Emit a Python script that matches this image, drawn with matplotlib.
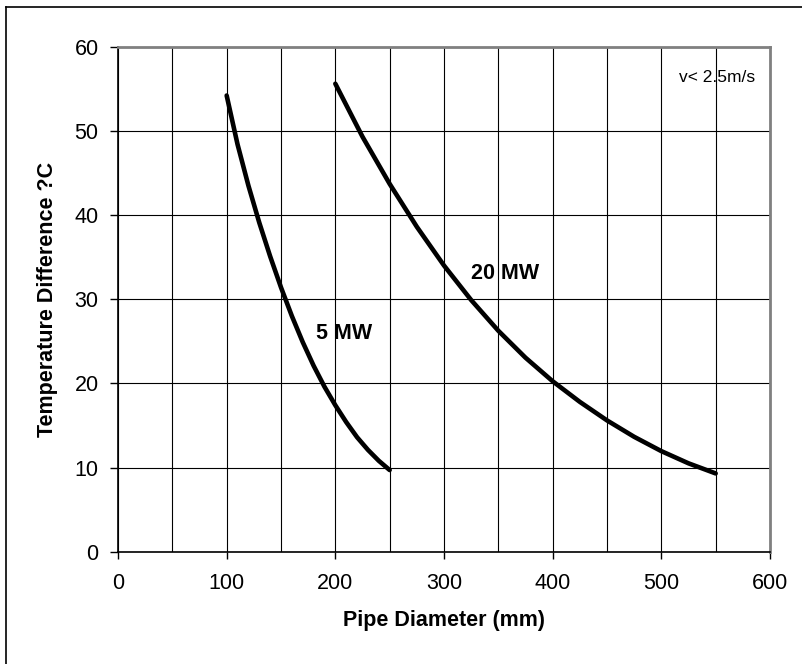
import numpy as np
import matplotlib.pyplot as plt
from matplotlib.lines import Line2D

plt.rcParams['font.family'] = ['Liberation Sans', 'DejaVu Sans']

# values
dia_5mw = [100, 110, 120, 130, 140, 150, 160, 170, 180, 190, 200, 210, 220, 230, 240, 250]
dt_5mw = [54.2, 48.4, 43.5, 39.1, 35.1, 31.4, 28.0, 24.9, 22.1, 19.6, 17.4, 15.4, 13.6, 12.1, 10.8, 9.7]

dia_20mw = [200, 225, 250, 275, 300, 325, 350, 375, 400, 425, 450, 475, 500, 525, 550]
dt_20mw = [55.6, 49.3, 43.7, 38.6, 34.0, 29.9, 26.25, 23.05, 20.25, 17.8, 15.6, 13.65, 11.95, 10.5, 9.3]

x_ticks = [0, 100, 200, 300, 400, 500, 600]
y_ticks = [0, 10, 20, 30, 40, 50, 60]

fig = plt.figure(figsize=(8.03, 6.64), dpi=100)
ax = fig.add_axes([118/803, 1-551.7/664, (770-118)/803, (551.7-46.7)/664])

ax.plot(dia_5mw, dt_5mw, color='black', lw=3.3, solid_capstyle='round', solid_joinstyle='round', zorder=3)
ax.plot(dia_20mw, dt_20mw, color='black', lw=3.3, solid_capstyle='round', solid_joinstyle='round', zorder=3)

ax.set_xlim(0, 600)
ax.set_ylim(0, 60)
ax.set_xticks(x_ticks)
ax.set_xticks(np.arange(0, 601, 50), minor=True)
ax.set_yticks(y_ticks)
ax.grid(which='both', axis='x', color='black', lw=0.8)
ax.grid(which='major', axis='y', color='black', lw=0.8)
ax.set_axisbelow(True)

ax.tick_params(axis='x', which='major', direction='out', length=5, width=1, labelsize=15.5, pad=10)
ax.tick_params(axis='x', which='minor', length=0)
ax.tick_params(axis='y', direction='out', length=6, width=1, labelsize=15.5, pad=8)

for s in ['left', 'bottom']:
    ax.spines[s].set_color('black')
    ax.spines[s].set_linewidth(1.2)
for s in ['top', 'right']:
    ax.spines[s].set_color('#808080')
    ax.spines[s].set_linewidth(2)

ax.set_xlabel('Pipe Diameter (mm)', fontsize=15.5, fontweight='bold', labelpad=12)
ax.set_ylabel('Temperature Difference ?C', fontsize=15.5, fontweight='bold', labelpad=12)

ax.text(356, 33.1, '20 MW', fontsize=15.5, fontweight='bold', ha='center', va='center')
ax.text(208, 25.9, '5 MW', fontsize=15.5, fontweight='bold', ha='center', va='center')
ax.text(551, 56.3, 'v< 2.5m/s', fontsize=12.5, ha='center', va='center')

# outer frame (only left and top visible in the crop)
fig.add_artist(Line2D([6/803, 6/803], [0, 1-7/664], color='black', lw=1.2))
fig.add_artist(Line2D([6/803, 1], [1-7/664, 1-7/664], color='black', lw=1.2))

fig.savefig('out.png', dpi=100)
